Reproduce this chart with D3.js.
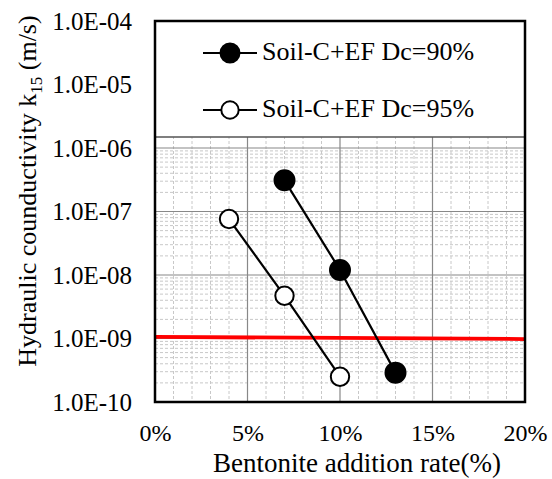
<!DOCTYPE html>
<html lang="en">
<head>
<meta charset="UTF-8">
<title>Hydraulic conductivity</title>
<style>
  body { margin: 0; background: #fff; }
  text { font-family: "Liberation Serif", "Times New Roman", serif; fill: #000; }
</style>
</head>
<body>
<script src="https://cdn.jsdelivr.net/npm/d3@7"></script>
<script>
// data
const rates90 = [7, 10, 13];
const k90 = [3.1e-7, 1.2e-8, 2.9e-10];
const rates95 = [4, 7, 10];
const k95 = [7.6e-8, 4.7e-9, 2.5e-10];
const limitLine = [[0, 1.06e-9], [20, 0.98e-9]];
const xTicks = [0, 5, 10, 15, 20];
const yTicks = [1e-10, 1e-9, 1e-8, 1e-7, 1e-6, 1e-5, 1e-4];
const legendNames = ['Soil-C+EF Dc=90%', 'Soil-C+EF Dc=95%'];

const serif = '"Liberation Serif", "Times New Roman", serif';
const w = 552, h = 479;
const m = { left: 155, right: 27, top: 21, bottom: 77 };
const iw = w - m.left - m.right, ih = h - m.top - m.bottom;

const svg = d3.select('body').append('svg')
  .attr('width', w).attr('height', h);

const x = d3.scaleLinear().domain([0, 20]).range([m.left, m.left + iw]);
const y = d3.scaleLog().domain([1e-10, 1e-4]).range([m.top + ih, m.top]);

// minor grid
const g = svg.append('g');
const minorX = d3.range(0, 21, 1).filter(d => d % 5 !== 0);
g.selectAll('.mx').data(minorX).enter().append('line')
  .attr('x1', d => x(d)).attr('x2', d => x(d))
  .attr('y1', m.top).attr('y2', m.top + ih)
  .attr('stroke', '#c8c8c8').attr('stroke-width', 1).attr('stroke-dasharray', '3,2');
const minorY = [];
for (let e = -10; e < -4; e++) for (let k = 2; k < 10; k++) minorY.push(k * Math.pow(10, e));
g.selectAll('.my').data(minorY).enter().append('line')
  .attr('x1', m.left).attr('x2', m.left + iw)
  .attr('y1', d => y(d)).attr('y2', d => y(d))
  .attr('stroke', '#c8c8c8').attr('stroke-width', 1).attr('stroke-dasharray', '3,2');
// major grid
g.selectAll('.Mx').data(xTicks).enter().append('line')
  .attr('x1', d => x(d)).attr('x2', d => x(d))
  .attr('y1', m.top).attr('y2', m.top + ih)
  .attr('stroke', '#888').attr('stroke-width', 1.2);
g.selectAll('.My').data(yTicks).enter().append('line')
  .attr('x1', m.left).attr('x2', m.left + iw)
  .attr('y1', d => y(d)).attr('y2', d => y(d))
  .attr('stroke', '#888').attr('stroke-width', 1.2);

// limit line
svg.append('line')
  .attr('x1', x(limitLine[0][0])).attr('y1', y(limitLine[0][1]))
  .attr('x2', x(limitLine[1][0])).attr('y2', y(limitLine[1][1]))
  .attr('stroke', '#ff0000').attr('stroke-width', 3.8);

// legend box (covers the grid at the top)
const legBottom = 137;
svg.append('rect')
  .attr('x', m.left).attr('y', m.top)
  .attr('width', iw).attr('height', legBottom - m.top)
  .attr('fill', '#fff');
svg.append('line')
  .attr('x1', m.left).attr('x2', m.left + iw)
  .attr('y1', legBottom).attr('y2', legBottom)
  .attr('stroke', '#555').attr('stroke-width', 1.5);

// series
const series = [
  { xs: rates90, ys: k90, fill: '#000' },
  { xs: rates95, ys: k95, fill: '#fff' }
];
const line = d3.line().x(d => x(d[0])).y(d => y(d[1]));
series.forEach(s => {
  const pts = s.xs.map((v, i) => [v, s.ys[i]]);
  svg.append('path').datum(pts).attr('d', line)
    .attr('fill', 'none').attr('stroke', '#000').attr('stroke-width', 2.2);
  svg.selectAll(null).data(pts).enter().append('circle')
    .attr('cx', d => x(d[0])).attr('cy', d => y(d[1]))
    .attr('r', s.fill === '#000' ? 10 : 9.2)
    .attr('fill', s.fill).attr('stroke', '#000').attr('stroke-width', 2);
});

// legend entries
const legY = [53, 110];
legendNames.forEach((name, i) => {
  const lg = svg.append('g');
  lg.append('line').attr('x1', 203).attr('x2', 257)
    .attr('y1', legY[i]).attr('y2', legY[i])
    .attr('stroke', '#000').attr('stroke-width', 2.2);
  lg.append('circle').attr('cx', 230).attr('cy', legY[i])
    .attr('r', i === 0 ? 9.5 : 8.7)
    .attr('fill', series[i].fill).attr('stroke', '#000').attr('stroke-width', 2);
  lg.append('text').attr('x', 262).attr('y', legY[i] + 7)
    .style('font-family', serif).attr('font-size', 26).text(name);
});

// frame
svg.append('rect')
  .attr('x', m.left).attr('y', m.top).attr('width', iw).attr('height', ih)
  .attr('fill', 'none').attr('stroke', '#000').attr('stroke-width', 2.5);

// axes
const xAxis = svg.append('g')
  .attr('transform', `translate(0,${m.top + ih})`)
  .call(d3.axisBottom(x).tickValues(xTicks).tickSize(0).tickPadding(21)
    .tickFormat(d => d + '%'));
xAxis.select('.domain').remove();
xAxis.selectAll('text').attr('font-size', 24).attr('dy', null)
  .attr('y', 441 - (m.top + ih)).style('font-family', serif);

const yAxis = svg.append('g')
  .attr('transform', `translate(${m.left},0)`)
  .call(d3.axisLeft(y).tickValues(yTicks).tickSize(0).tickPadding(23)
    .tickFormat(d => '1.0E-' + String(-Math.round(Math.log10(d))).padStart(2, '0')));
yAxis.select('.domain').remove();
yAxis.selectAll('text').attr('font-size', 25).style('font-family', serif);

// axis titles
svg.append('text')
  .attr('x', 357).attr('y', 472)
  .attr('text-anchor', 'middle').attr('font-size', 27)
  .style('font-family', serif)
  .text('Bentonite addition rate(%)');

const yt = svg.append('text')
  .attr('transform', 'translate(36,191) rotate(-90)')
  .attr('text-anchor', 'middle').attr('font-size', 26)
  .style('font-family', serif);
yt.append('tspan').text('Hydraulic counductivity k');
yt.append('tspan').attr('font-size', 17).attr('dy', 6).text('15');
yt.append('tspan').attr('dy', -6).text(' (m/s)');
</script>
</body>
</html>
